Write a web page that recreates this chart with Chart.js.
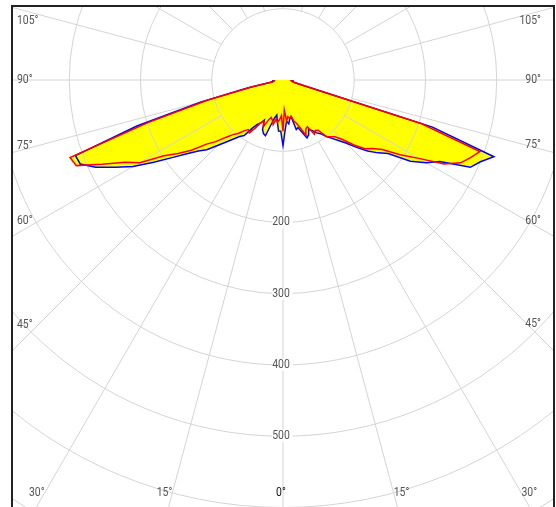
<!DOCTYPE html>
<html>
<head>
<meta charset="utf-8">
<script src="https://cdn.jsdelivr.net/npm/chart.js@4.4.1/dist/chart.umd.min.js"></script>
<style>
  html, body { margin: 0; padding: 0; background: #fff; }
  canvas { display: block; }
</style>
</head>
<body>
<canvas id="polarChart" width="556" height="507"></canvas>
<script>
// gamma angles (deg), negative = left half of the plane
const gammaAngles = [
  -90, -87.5, -85, -82.5, -80, -77.5, -75, -72.5, -70, -67.5, -65, -62.5, -60, -57.5, -55, -52.5,
  -50, -47.5, -45, -42.5, -40, -37.5, -35, -32.5, -30, -27.5, -25, -22.5, -20, -17.5, -15, -12.5,
  -10, -7.5, -5, -2.5, 0, 2.5, 5, 7.5, 10, 12.5, 15, 17.5, 20, 22.5, 25, 27.5,
  30, 32.5, 35, 37.5, 40, 42.5, 45, 47.5, 50, 52.5, 55, 57.5, 60, 62.5, 65, 67.5,
  70, 72.5, 75, 77.5, 80, 82.5, 85, 87.5, 90
];

// red curve
const intensityRed = [
  12, 12, 12, 13, 14, 44, 110, 198, 318, 314, 280, 250, 232, 198, 180, 162,
  140, 128, 114, 104, 98, 90, 85, 88, 78, 68, 64, 70, 60, 55, 58, 64,
  56, 60, 56, 50, 72, 42, 58, 52, 55, 52, 60, 64, 72, 84, 76, 74,
  88, 84, 86, 100, 104, 108, 118, 135, 150, 158, 170, 195, 220, 255, 275, 285,
  294, 204, 26, 16, 13, 12, 12, 12, 12
];

// blue curve
const intensityBlue = [
  14, 14, 14, 15, 16, 50, 120, 215, 310, 308, 290, 265, 243, 215, 190, 170,
  155, 145, 130, 118, 108, 100, 95, 80, 72, 68, 62, 75, 80, 82, 65, 55,
  50, 60, 72, 72, 92, 70, 58, 62, 55, 53, 72, 70, 78, 88, 85, 78,
  82, 88, 92, 100, 107, 115, 125, 140, 155, 168, 180, 212, 232, 248, 290, 300,
  315, 220, 30, 18, 15, 14, 14, 14, 14
];

const ringValues = [100, 200, 300, 400, 500, 600, 700, 800];
const ringLabels = [200, 300, 400, 500];
const spokeAngles = [-165, -150, -135, -120, -105, -90, -75, -60, -45, -30, -15, 0, 15, 30, 45, 60, 75, 90, 105, 120, 135, 150, 165, 180];
const angleLabels = [-105, -90, -75, -60, -45, -30, -15, 0, 15, 30, 45, 60, 75, 90, 105];

const labelFont = '12px Roboto, "DejaVu Sans", sans-serif';

function toPoints(values) {
  return gammaAngles.map((g, i) => {
    const rad = g * Math.PI / 180;
    return { x: values[i] * Math.sin(rad), y: -values[i] * Math.cos(rad) };
  });
}

// narrow text: squeeze to ~87% of its natural width
function narrowText(ctx, text, px, py) {
  const w = ctx.measureText(text).width;
  ctx.fillText(text, px, py, w * 0.87);
}

const polarGrid = {
  id: 'polarGrid',
  beforeDatasetsDraw(chart) {
    const { ctx, chartArea: area, scales: { x, y } } = chart;
    const cx = x.getPixelForValue(0);
    const cy = y.getPixelForValue(0);
    ctx.save();
    ctx.beginPath();
    ctx.rect(area.left, area.top, area.right - area.left, area.bottom - area.top);
    ctx.clip();
    ctx.strokeStyle = '#d4d4d4';
    ctx.lineWidth = 1;
    ringValues.forEach(v => {
      ctx.beginPath();
      ctx.arc(cx, cy, x.getPixelForValue(v) - cx, 0, Math.PI * 2);
      ctx.stroke();
    });
    spokeAngles.forEach(a => {
      const rad = a * Math.PI / 180;
      ctx.beginPath();
      ctx.moveTo(x.getPixelForValue(100 * Math.sin(rad)), y.getPixelForValue(-100 * Math.cos(rad)));
      ctx.lineTo(x.getPixelForValue(1200 * Math.sin(rad)), y.getPixelForValue(-1200 * Math.cos(rad)));
      ctx.stroke();
    });
    ctx.restore();
  },
  afterDatasetsDraw(chart) {
    const { ctx, chartArea: area, scales: { x, y } } = chart;
    const cx = x.getPixelForValue(0);
    const cy = y.getPixelForValue(0);
    ctx.save();
    ctx.font = labelFont;
    ctx.textBaseline = 'middle';

    // intensity labels on the 0° spoke
    ctx.textAlign = 'center';
    ringLabels.forEach(v => {
      const py = y.getPixelForValue(-v);
      const w = ctx.measureText(String(v)).width * 0.87;
      ctx.fillStyle = '#fff';
      ctx.fillRect(cx - w / 2 - 2, py - 6, w + 3, 12);
      ctx.fillStyle = '#555';
      narrowText(ctx, String(v), cx - 2, py);
    });

    // angle labels along the frame
    const insetL = area.left + 26, insetR = area.right - 27;
    const insetT = area.top + 15, insetB = area.bottom - 14;
    angleLabels.forEach(a => {
      const rad = a * Math.PI / 180;
      const dx = Math.sin(rad), dy = Math.cos(rad);
      let tSide = Infinity, tBottom = Infinity;
      if (dx < -1e-9) tSide = (insetL - cx) / dx;
      if (dx > 1e-9) tSide = (insetR - cx) / dx;
      if (dy > 1e-9) tBottom = (insetB - cy) / dy;
      const text = Math.abs(a) + '°';
      let px, py;
      if (tSide < tBottom) {
        py = Math.min(Math.max(cy + tSide * dy, insetT), insetB);
        if (a < 0) { ctx.textAlign = 'left'; px = area.left + 5; }
        else { ctx.textAlign = 'right'; px = area.right - 13; }
      } else {
        py = insetB;
        px = cx + tBottom * dx;
        ctx.textAlign = a < 0 ? 'right' : (a > 0 ? 'left' : 'center');
        if (a === 0) px -= 2;
      }
      ctx.fillStyle = a === 0 ? '#111' : '#555';
      narrowText(ctx, text, px, py);
    });
    ctx.restore();
  },
  afterDraw(chart) {
    const { ctx, chartArea: area } = chart;
    ctx.save();
    ctx.strokeStyle = '#222';
    ctx.lineWidth = 2;
    ctx.beginPath();
    ctx.moveTo(area.left, area.bottom + 5);
    ctx.lineTo(area.left, area.top);
    ctx.lineTo(area.right, area.top);
    ctx.lineTo(area.right, area.bottom + 5);
    ctx.stroke();
    ctx.restore();
  }
};

new Chart(document.getElementById('polarChart'), {
  type: 'line',
  data: {
    datasets: [{
      label: 'C0-C180',
      data: toPoints(intensityRed),
      borderColor: '#ff0000',
      backgroundColor: '#ffff00',
      borderWidth: 1.5,
      pointRadius: 0,
      fill: 'shape',
      tension: 0
    }, {
      label: 'C90-C270',
      data: toPoints(intensityBlue),
      borderColor: '#0000ff',
      backgroundColor: '#ffff00',
      borderWidth: 1.5,
      pointRadius: 0,
      fill: 'shape',
      tension: 0
    }]
  },
  options: {
    responsive: false,
    animation: false,
    events: [],
    layout: { padding: { left: 12, right: 2, top: 6, bottom: 0 } },
    scales: {
      x: { type: 'linear', min: -380.35, max: 380.35, display: false },
      y: { type: 'linear', min: -599.3, max: 103.86, display: false }
    },
    plugins: {
      legend: { display: false },
      tooltip: { enabled: false },
      filler: { drawTime: 'beforeDatasetsDraw' }
    }
  },
  plugins: [polarGrid]
});
</script>
</body>
</html>
